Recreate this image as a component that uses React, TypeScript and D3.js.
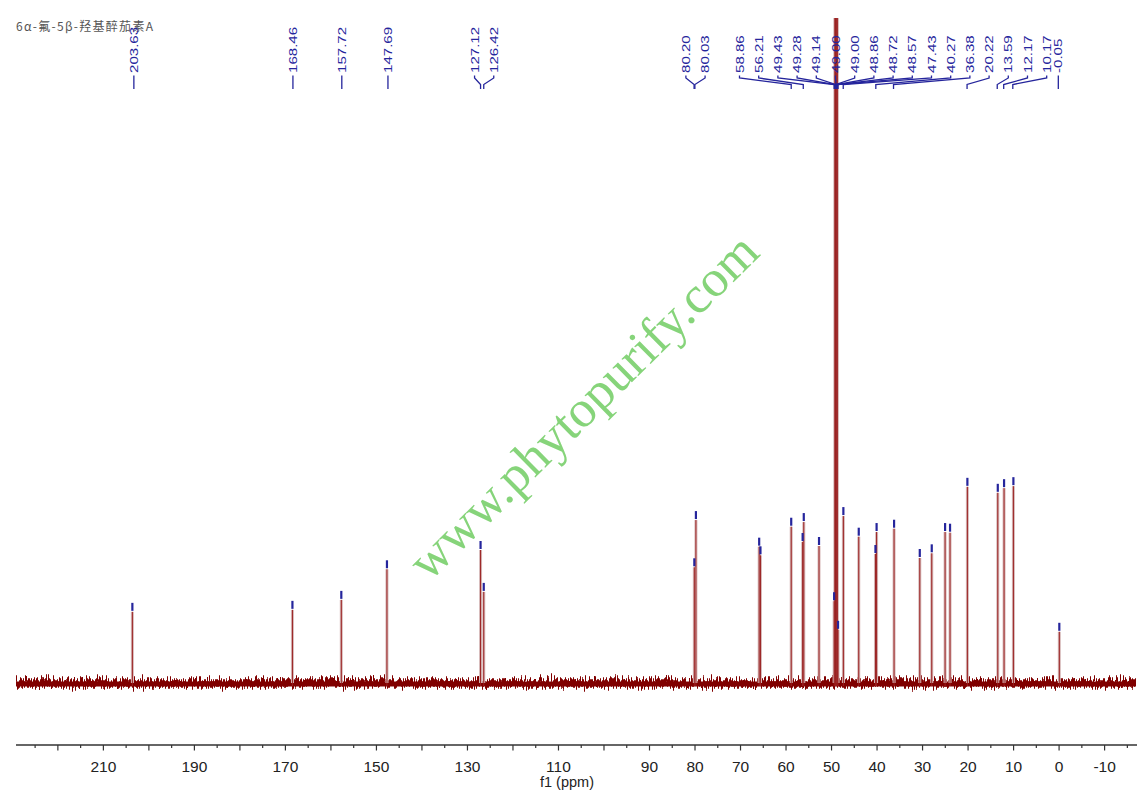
import * as d3 from "d3"

// 13C NMR spectrum, CD3OD
const title = "6α-氟-5β-羟基醉茄素A"
const watermark = "www.phytopurify.com"

// picked peaks (ppm) and their heights (0-100 = baseline to top of plot)
const peakPpm = [
  203.63, 168.46, 157.72, 147.69, 127.12, 126.42, 80.15, 79.8, 65.9, 65.62, 58.86, 56.35, 56.1, 52.75,
  49.43, 49.28, 49.14, 49.0, 48.86, 48.72, 48.57, 47.4, 44.02, 40.35, 40.1, 36.26, 30.61, 27.98, 25.05,
  23.96, 20.15, 13.47, 12.09, 10.04, -0.05,
]
const peakHeight = [
  10.7, 11.0, 12.5, 17.1, 20.0, 13.7, 17.4, 24.5, 20.5, 19.2, 23.5, 21.2, 24.2, 20.6,
  12.3, 105, 130, 150, 130, 105, 8, 25.1, 22.0, 19.4, 22.7, 23.2, 18.8, 19.5, 22.7,
  22.6, 29.5, 28.6, 29.3, 29.6, 7.7,
]

// peak labels, grouped the way they are printed at the top
const labelGroups = [
  [203.63],
  [168.46],
  [157.72],
  [147.69],
  [127.12, 126.42],
  [80.2, 80.03],
  [58.86, 56.21, 49.43, 49.28, 49.14, 49.0, 49.0, 48.86, 48.72, 48.57, 47.43, 40.27, 36.38, 20.22, 13.59, 12.17, 10.17],
  [-0.05],
]

// axis
const tickValues = d3.range(-15, 226, 5)
const tickLabels = [210, 190, 170, 150, 130, 110, 90, 80, 70, 60, 50, 40, 30, 20, 10, 0, -10]

const W = 1141
const H = 803
const baseY = 683
const axisY = 745

export default function App() {
  const x = d3.scaleLinear().domain([229.2, -16.9]).range([16, 1136])
  const y = d3.scaleLinear().domain([0, 100]).range([baseY, 18]).clamp(true)

  const navy = "#25259c"
  const spectrum = "#800000"

  // label layout: each group is spread evenly round the mean of its peaks
  const gap = 19.2
  const groupNudge = [1.5, 0.5, 0.5, 1, 2, 1, 18, -1]
  const labels: { v: number; lx: number; px: number; grouped: boolean }[] = []
  labelGroups.forEach((g, gi) => {
    const mean = d3.mean(g, (v) => x(v)) as number
    const start = mean - ((g.length - 1) * gap) / 2 + groupNudge[gi]
    g.forEach((v, i) => {
      labels.push({ v, lx: start + i * gap, px: x(v), grouped: g.length > 1 })
    })
  })

  const peaks = peakPpm.map((p, i) => ({ p, h: peakHeight[i] }))

  return (
    <svg
      width={W}
      height={H}
      style={{ position: "absolute", left: 0, top: 0, background: "#fff" }}
      fontFamily="'Liberation Sans', Arial, sans-serif"
    >
      <defs>
        <filter
          id="noise"
          filterUnits="userSpaceOnUse"
          x={0}
          y={baseY - 40}
          width={W}
          height={80}
          colorInterpolationFilters="sRGB"
        >
          <feTurbulence type="fractalNoise" baseFrequency="0.9 0.02" numOctaves={3} seed={11} result="t" />
          <feColorMatrix
            in="t"
            type="matrix"
            values="0 0 0 0 0.5  0 1 0 0 0  0 0 0 0 0  0 0 0 0 1"
            result="m"
          />
          <feDisplacementMap in="SourceGraphic" in2="m" scale={16} xChannelSelector="R" yChannelSelector="G" />
        </filter>
      </defs>

      {/* title */}
      <text x={16} y={31} fontSize={12} fill="#555" fontFamily="'Noto Sans CJK SC', sans-serif" textLength={137}>
        {title}
      </text>

      {/* watermark */}
      <text
        transform="translate(583,406) rotate(-44.6)"
        textAnchor="middle"
        dominantBaseline="central"
        fontSize={52}
        fontFamily="'Liberation Serif', 'Times New Roman', serif"
        fill="#86d47a"
      >
        {watermark}
      </text>

      {/* baseline noise */}
      <line
        x1={x.range()[0]}
        x2={x.range()[1]}
        y1={baseY}
        y2={baseY}
        stroke={spectrum}
        strokeWidth={7.5}
        filter="url(#noise)"
      />
      <line
        x1={x.range()[0]}
        x2={x.range()[1]}
        y1={baseY + 1}
        y2={baseY + 1}
        stroke={spectrum}
        strokeWidth={5}
      />

      {/* peaks: pale halo with a dark centre */}
      {peaks.map((d, i) => (
        <line key={"h" + i} x1={x(d.p)} x2={x(d.p)} y1={baseY} y2={y(d.h)} stroke="#d6b8b8" strokeWidth={3} />
      ))}
      {peaks.map((d, i) => (
        <line key={"p" + i} x1={x(d.p)} x2={x(d.p)} y1={baseY + 3} y2={y(d.h)} stroke="#9a1f1f" strokeWidth={1} />
      ))}

      {/* peak pick marks */}
      {peaks
        .filter((d) => d.h < 100)
        .map((d, i) => (
          <line key={"m" + i} x1={x(d.p)} x2={x(d.p)} y1={y(d.h) - 9} y2={y(d.h) - 1} stroke={navy} strokeWidth={2.2} />
        ))}

      {/* labels and leaders */}
      {labels.map((l, i) => (
        <g key={"l" + i}>
          <text
            transform={`translate(${l.lx},73) rotate(-90) scale(1.3,1)`}
            dy="0.35em"
            textAnchor="start"
            fontSize={11.6}
            fill={navy}
          >
            {l.v.toFixed(2)}
          </text>
          <polyline
            points={
              l.grouped
                ? `${l.lx},75.5 ${l.lx},78 ${l.px},84.5 ${l.px},89`
                : `${l.lx},75.5 ${l.lx},89`
            }
            fill="none"
            stroke={navy}
            strokeWidth={1.3}
          />
        </g>
      ))}

      {/* x axis */}
      <line x1={16} x2={1137} y1={axisY} y2={axisY} stroke="#333" strokeWidth={1.4} />
      {tickValues.map((t) => (
        <line
          key={"t" + t}
          x1={x(t)}
          x2={x(t)}
          y1={axisY}
          y2={axisY + (t % 10 === 0 ? 5.5 : 3)}
          stroke="#333"
          strokeWidth={1.2}
        />
      ))}
      {tickLabels.map((t) => (
        <text key={"tl" + t} x={x(t)} y={771.5} textAnchor="middle" fontSize={15.5} fill="#222">
          {t}
        </text>
      ))}
      <text x={567} y={787} textAnchor="middle" fontSize={14.5} fill="#222">
        f1 (ppm)
      </text>
    </svg>
  )
}
